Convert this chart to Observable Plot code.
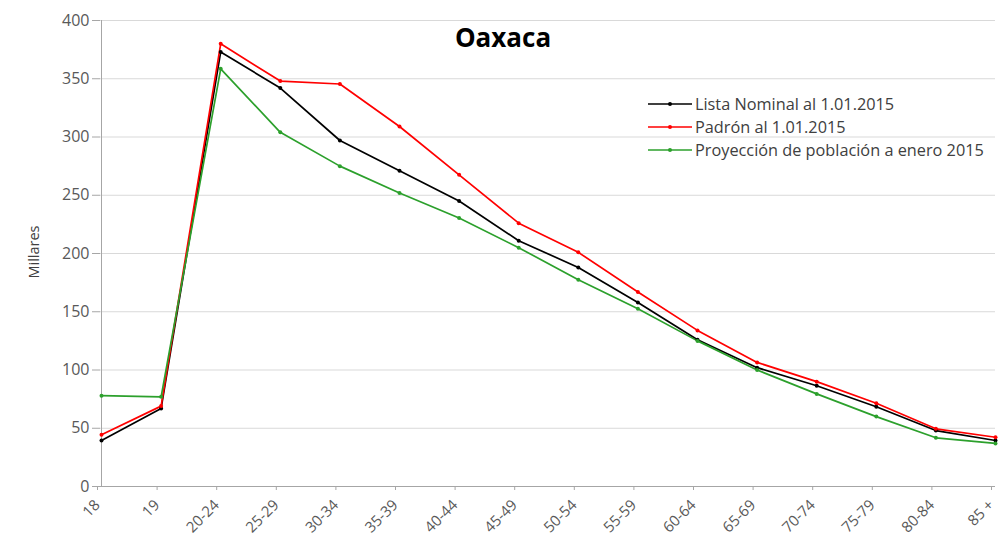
<!DOCTYPE html>
<html><head><meta charset="utf-8">
<script src="https://cdn.jsdelivr.net/npm/d3@7"></script>
<script src="https://cdn.jsdelivr.net/npm/@observablehq/plot@0.6"></script>
<style>
body{margin:0;background:#fff;font-family:"Open Sans",sans-serif;}
#wrap{position:relative;width:998px;height:535px;overflow:hidden;}
#title{position:absolute;left:403px;width:200px;top:19px;text-align:center;font-weight:bold;font-size:26px;color:#000;line-height:36px;}
#legend{position:absolute;left:648px;top:92px;font-size:16.3px;color:#404040;}
#legend .row{display:flex;align-items:center;height:23px;white-space:nowrap;}
#legend svg{margin-right:3px;}
#ylabel{position:absolute;left:33px;top:252px;transform:translate(-50%,-50%) rotate(-90deg);font-size:14.5px;color:#404040;white-space:nowrap;}
</style>
</head><body><div id="wrap"><div id="title">Oaxaca</div><div id="ylabel">Millares</div><div id="legend"></div></div>
<script>
const ages = ["18","19","20-24","25-29","30-34","35-39","40-44","45-49","50-54","55-59","60-64","65-69","70-74","75-79","80-84","85 +"];
const listaNominal = [39.5, 67, 373, 342, 297, 271, 245, 211, 188, 158, 126, 102, 86.5, 68.5, 48, 39.5];
const padron =       [44.5, 69, 380, 348, 345.5, 309, 267.5, 226, 201, 167, 134, 106.5, 90, 71.5, 49.5, 42.3];
const proyeccion =   [78, 77, 358.5, 304, 275, 252, 230.5, 205, 177.4, 152.5, 125, 100, 79.5, 60, 41.8, 37];
const seriesNames = ["Lista Nominal al 1.01.2015", "Padrón al 1.01.2015", "Proyección de población a enero 2015"];
const seriesColors = ["#000000", "#ff0000", "#2ca02c"];
const yTicks = [0, 50, 100, 150, 200, 250, 300, 350, 400];
const yLabel = "Millares";

const seriesValues = [listaNominal, padron, proyeccion];
const data = seriesNames.flatMap((s, i) => ages.map((a, j) => ({series: s, age: a, value: seriesValues[i][j]})));

const chart = Plot.plot({
  width: 998, height: 535,
  marginLeft: 100, marginRight: 3, marginTop: 20, marginBottom: 49,
  style: {fontFamily: "'Open Sans', sans-serif", fontSize: "16px", color: "#595959", background: "#fff"},
  x: {type: "point", domain: ages, padding: 0, round: false, range: [101, 995]},
  y: {domain: [0, 400]},
  color: {domain: seriesNames, range: seriesColors},
  marks: [
    Plot.gridY(yTicks, {stroke: "#d9d9d9", strokeOpacity: 1}),
    Plot.ruleY([0], {stroke: "#a6a6a6"}),
    Plot.ruleX([ages[0]], {stroke: "#a6a6a6"}),
    Plot.axisY(yTicks, {tickSize: 8, stroke: "#a6a6a6", tickPadding: 3, fontSize: 16, label: null, color: "#595959"}),
    Plot.axisX({tickSize: 4, stroke: "#a6a6a6", tickRotate: -45, fontSize: 15, label: null, tickPadding: 12, dx: -4, color: "#595959"}),
    Plot.line(data, {x: "age", y: "value", stroke: "series", strokeWidth: 1.7}),
    Plot.dot(data, {x: "age", y: "value", fill: "series", r: 2})
  ]
});
document.getElementById("wrap").prepend(chart);
chart.style.position = "absolute"; chart.style.left = "0"; chart.style.top = "0";
document.getElementById("ylabel").textContent = yLabel;

const legend = document.getElementById("legend");
seriesNames.forEach((s, i) => {
  const row = document.createElement("div");
  row.className = "row";
  row.innerHTML = `<svg width="44" height="10"><line x1="0" x2="44" y1="5" y2="5" stroke="${seriesColors[i]}" stroke-width="1.6"/><circle cx="22" cy="5" r="2" fill="${seriesColors[i]}"/></svg><span>${s}</span>`;
  legend.appendChild(row);
});
</script>
</body></html>
